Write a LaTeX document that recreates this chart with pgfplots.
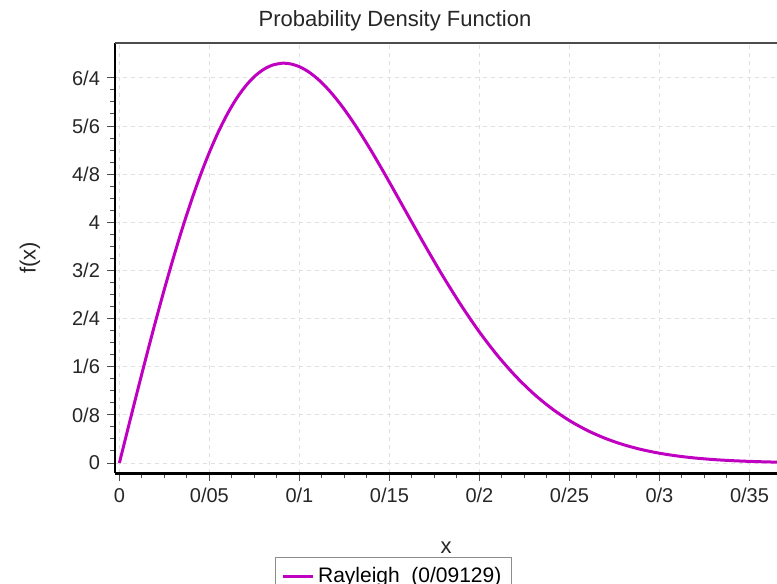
\documentclass[border=0pt]{standalone}
\usepackage{fontspec}
\setmainfont{Liberation Sans}
\usepackage{pgfplots}
\pgfplotsset{compat=1.18}
\definecolor{curve}{RGB}{192,0,192}
\definecolor{gridc}{RGB}{224,224,224}
\begin{document}
\begin{tikzpicture}
\useasboundingbox (-57.5pt,-55.5pt) rectangle (331pt,236.5pt);
\begin{axis}[
    at={(0,0)}, anchor=south west,
    scale only axis,
    width=331pt, height=215pt,
    xmin=-0.00244, xmax=0.3653,
    ymin=-0.166, ymax=6.98,
    axis x line=bottom, axis y line=left,
    x axis line style={-, line width=1.5pt, black},
    y axis line style={-, line width=1pt, black},
    tick align=outside,
    major tick length=4pt, minor tick length=2.5pt,
    every tick/.style={black!70, line width=0.5pt},
    xtick={0,0.05,0.1,0.15,0.2,0.25,0.3,0.35},
    xticklabels={0,0/05,0/1,0/15,0/2,0/25,0/3,0/35},
    ytick={0,0.8,1.6,2.4,3.2,4,4.8,5.6,6.4},
    yticklabels={0,0/8,1/6,2/4,3/2,4,4/8,5/6,6/4},
    minor x tick num=3, minor y tick num=3,
    ticklabel style={font=\fontsize{10}{12}\selectfont, black!85},
    grid=major,
    major grid style={gridc, line width=0.5pt, dash pattern=on 2pt off 2pt},
    every axis title shift=0pt,
    title={Probability Density Function},
    title style={at={(axis description cs:0.423,1.051)}, anchor=center,
                 font=\fontsize{11}{13}\selectfont, black!85},
    xlabel={x},
    xlabel style={at={(axis description cs:0.5,-0.174)}, anchor=center,
                  font=\fontsize{11}{13}\selectfont, black!85},
    ylabel={f(x)},
    ylabel style={at={(axis description cs:-0.1284,0.5)}, anchor=center,
                  rotate=0, font=\fontsize{11}{13}\selectfont, black!85},
    legend style={at={(axis description cs:0.2417,-0.195)}, anchor=north west,
                  draw=black!45, line width=0.5pt,
                  font=\fontsize{10.5}{12}\selectfont,
                  inner xsep=3pt, inner ysep=3pt},
    legend cell align=left,
    legend image code/.code={\draw[#1, line width=1.3pt] (0pt,0pt) -- (15pt,0pt);},
]
\addplot[curve, line width=1.5pt, smooth, no marks] coordinates {
(0,0) (0.005,0.5991) (0.01,1.1928) (0.015,1.7759) (0.02,2.3431)
(0.025,2.8896) (0.03,3.4107) (0.035,3.9024) (0.04,4.3606) (0.045,4.7822)
(0.05,5.1643) (0.055,5.5045) (0.06,5.8013) (0.065,6.0537) (0.07,6.2604)
(0.075,6.4222) (0.08,6.5389) (0.085,6.6122) (0.09,6.6429) (0.09129,6.6445)
(0.095,6.6332) (0.10,6.5857) (0.105,6.5027) (0.11,6.3867) (0.115,6.2413)
(0.12,6.0692) (0.125,5.8740) (0.13,5.6594) (0.135,5.4270) (0.14,5.1835)
(0.145,4.9280) (0.15,4.6663) (0.16,4.1326) (0.17,3.6020) (0.18,3.0916)
(0.19,2.6140) (0.20,2.1772) (0.21,1.7874) (0.22,1.4466) (0.23,1.1545)
(0.24,0.9088) (0.25,0.7055) (0.26,0.5403) (0.27,0.4083) (0.28,0.3044)
(0.29,0.2240) (0.30,0.1626) (0.31,0.1165) (0.32,0.0824) (0.33,0.0575)
(0.34,0.0397) (0.35,0.0270) (0.36,0.0181) (0.37,0.0120)
};
\addlegendentry{Rayleigh\ \ (0/09129)}
\draw[black!70, line width=1pt] (rel axis cs:0,1) -- (rel axis cs:1,1);
\end{axis}
\end{tikzpicture}
\end{document}
